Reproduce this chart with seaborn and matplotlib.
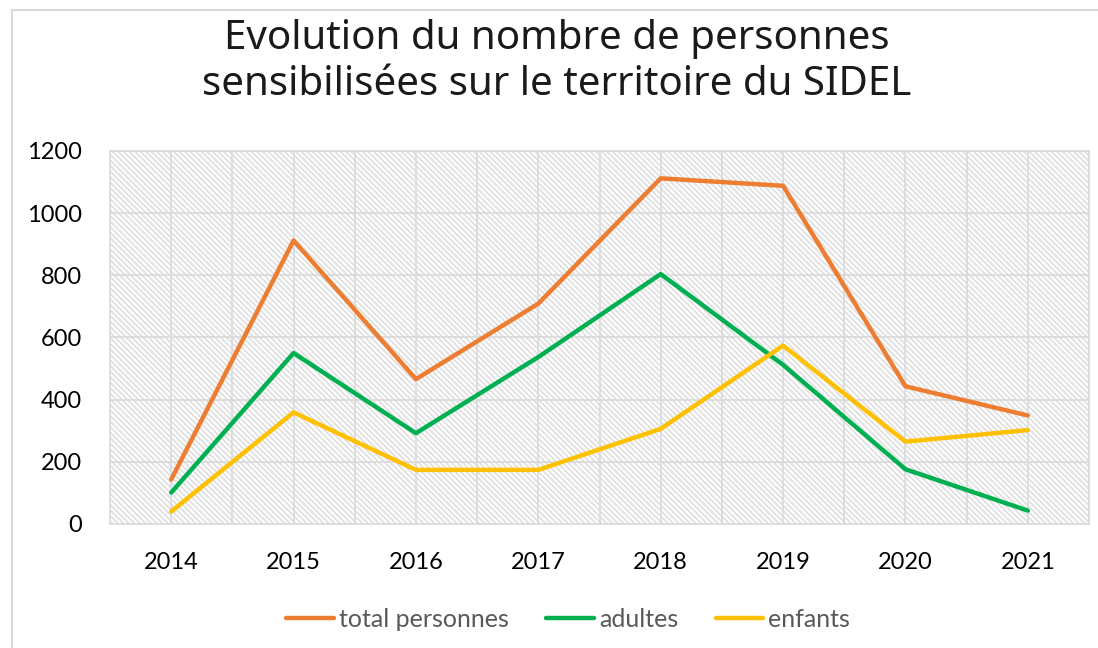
import matplotlib
matplotlib.use("Agg")
import matplotlib.pyplot as plt
from matplotlib.patches import Rectangle
import seaborn as sns
import pandas as pd

annees = [2014, 2015, 2016, 2017, 2018, 2019, 2020, 2021]
total_personnes = [143, 912, 466, 709, 1112, 1088, 443, 349]
adultes = [101, 550, 292, 537, 804, 512, 176, 43]
enfants = [40, 359, 174, 174, 306, 574, 265, 302]
series = ["total personnes", "adultes", "enfants"]
couleurs = ["#ED7D31", "#00B050", "#FFC000"]

df = pd.DataFrame({
    "annee": annees * 3,
    "valeur": total_personnes + adultes + enfants,
    "serie": [s for s in series for _ in annees],
})

sns.set_theme(style="white")
plt.rcParams["font.family"] = ["Lato", "DejaVu Sans"]
plt.rcParams["hatch.linewidth"] = 1.3

fig = plt.figure(figsize=(10.98, 6.48), dpi=100)
ax = fig.add_axes([0.1002, 0.1914, 0.8916, 0.5756])

# fond hachuré de la zone de tracé
fond = Rectangle((0, 0), 1, 1, transform=ax.transAxes, facecolor="white",
                 edgecolor="#E0E0E0", hatch="\\" * 6, linewidth=0, zorder=0)
ax.add_patch(fond)

sns.lineplot(data=df, x="annee", y="valeur", hue="serie", palette=couleurs,
             hue_order=series, linewidth=3.2, ax=ax, zorder=3)

ax.set_xlim(annees[0] - 0.5, annees[-1] + 0.5)
ax.set_ylim(0, 1200)
ax.set_yticks(range(0, 1201, 200))
ax.set_xticks(annees)
ax.set_xticklabels([str(a) for a in annees])
ax.set_xlabel("")
ax.set_ylabel("")

# grilles
for y in range(200, 1201, 200):
    ax.axhline(y, color="#D9D9D9", linewidth=1.2, zorder=1)
for a in annees:
    ax.axvline(a, color="#D6DCE5", linewidth=1.2, zorder=1)
    ax.axvline(a + 0.5, color="#D9D9D9", linewidth=1.2, zorder=1)

for sp in ax.spines.values():
    sp.set_color("#D9D9D9")
    sp.set_linewidth(1.2)

ax.tick_params(axis="both", length=0, labelsize=17, colors="black")
ax.tick_params(axis="x", pad=20)
ax.tick_params(axis="y", pad=20)

ax.legend(loc="center", bbox_to_anchor=(0.468, -0.255), ncol=3, frameon=False,
          fontsize=18, handlelength=1.9, handletextpad=0.2, columnspacing=1.5,
          labelcolor="#595959")

fig.text(0.507, 0.905, "Evolution du nombre de personnes\nsensibilisées sur le territoire du SIDEL",
         ha="center", va="center", fontsize=29, color="#1A1A1A",
         family=["Noto Sans", "DejaVu Sans"], linespacing=1.2)

fig.patches.append(Rectangle((0.0105, -0.05), 1.1, 1.035, transform=fig.transFigure,
                             facecolor="none", edgecolor="#D9D9D9", linewidth=1.5))

fig.savefig("out.png", dpi=100)
